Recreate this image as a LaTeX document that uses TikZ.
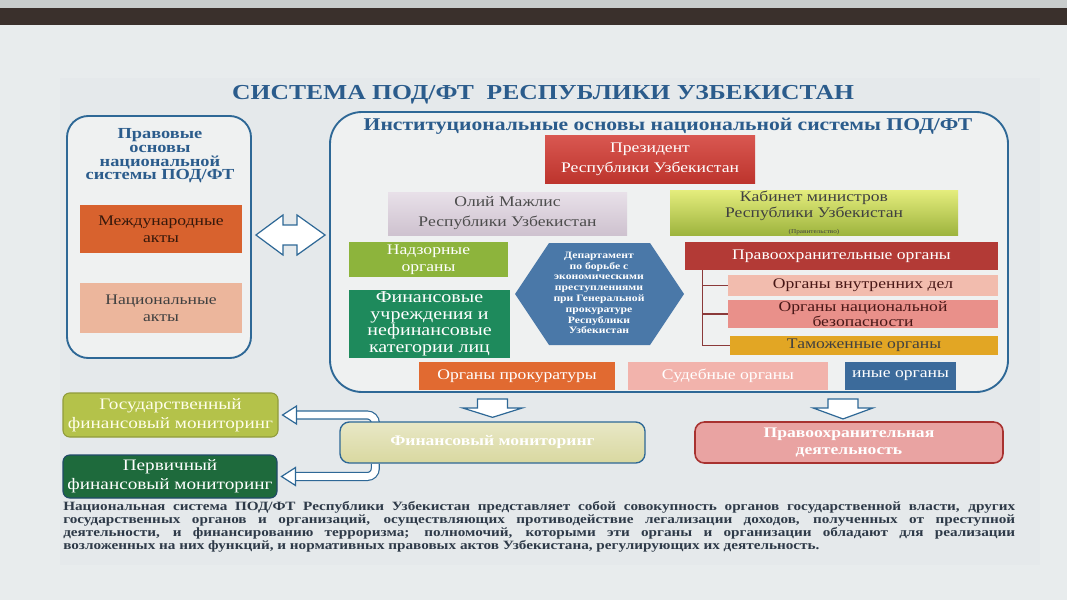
\documentclass[tikz,border=0pt]{standalone}
\usepackage{fontspec}
\setmainfont{Liberation Serif}[FakeStretch=1.2]
\usetikzlibrary{calc}
\pgfdeclarelayer{back}
\pgfdeclarelayer{bg}
\pgfsetlayers{back,bg,main}
\definecolor{bgc}{HTML}{E8ECED}
\definecolor{slidec}{HTML}{E5E9EB}
\definecolor{darkstrip}{HTML}{3A302C}
\definecolor{topstrip}{HTML}{C9CDCD}
\definecolor{blueline}{HTML}{2E6896}
\definecolor{titleblue}{HTML}{2B5C8C}
\definecolor{marble}{HTML}{EFF1F1}
\definecolor{maorange}{HTML}{D8622E}
\definecolor{napeach}{HTML}{ECB69C}
\definecolor{presred}{HTML}{D23A32}
\definecolor{olijlav}{HTML}{D9CCDA}
\definecolor{kabgreen}{HTML}{AFC845}
\definecolor{nadzgreen}{HTML}{8DB43C}
\definecolor{fingreen}{HTML}{1E8A5C}
\definecolor{hexblue}{HTML}{4A78A8}
\definecolor{pravred}{HTML}{B33A36}
\definecolor{ovdpink}{HTML}{F2BCAE}
\definecolor{onbpink}{HTML}{E9908A}
\definecolor{tamyellow}{HTML}{E2A624}
\definecolor{prokorange}{HTML}{E16A31}
\definecolor{sudpink}{HTML}{F2B3AC}
\definecolor{inyeblue}{HTML}{3C6B9B}
\definecolor{gfmolive}{HTML}{B4C24A}
\definecolor{pfmgreen}{HTML}{1E6A3C}
\definecolor{fmfill}{HTML}{D9D8A0}
\definecolor{pdfill}{HTML}{E9A3A2}
\definecolor{pdline}{HTML}{A83230}
\definecolor{treered}{HTML}{8B3A3A}
\definecolor{paratext}{HTML}{2E3A48}
\newcommand\fz[2]{\fontsize{#1}{#2}\selectfont}
% box from corner (x1,y1) to (x2,y2) in pixels
\newcommand\bx[7]{\node[box,#6,minimum width={(#4-#2)*0.75pt},minimum height={(#5-#3)*0.75pt}] (#1) at ({(#2+#4)/2},{(#3+#5)/2}) {#7};}
\begin{document}
\begin{tikzpicture}[x=0.75pt,y=-0.75pt,
  box/.style={inner sep=0pt, align=center},
  roundbox/.style={draw=blueline, line width=1.4pt, fill=marble},
  tree/.style={draw=treered, line width=0.8pt},
  hollow/.style={draw=blueline, line width=0.9pt, double=white, double distance=5pt, rounded corners=6},
  headar/.style={draw=blueline, line width=0.9pt, fill=white, line join=miter},
  blockar/.style={draw=blueline, line width=0.9pt, fill=white, line join=miter}]
\useasboundingbox (0,0) rectangle (1067,600);
\begin{pgfonlayer}{back}
\fill[bgc] (0,0) rectangle (1067,600);
\fill[slidec] (60,78) rectangle (1040,565);
\fill[topstrip] (0,0) rectangle (1067,8);
\fill[darkstrip] (0,8) rectangle (1067,25);
\end{pgfonlayer}

% title
\node[box, text=titleblue, font=\fz{16}{18}\bfseries] (title) at (543,95) {СИСТЕМА ПОД/ФТ\ \ РЕСПУБЛИКИ УЗБЕКИСТАН};

% legal basis
\bx{legal}{67}{116}{251}{358}{roundbox, rounded corners=16}{}
\node[box, text=titleblue, font=\fz{11.5}{10.2}\bfseries] (legalt) at (160,156) {Правовые\\основы\\национальной\\системы ПОД/ФТ};
\bx{ma}{80}{205}{242}{253}{fill=maorange, text=black!75!maorange, font=\fz{11}{13}}{Международные\\акты}
\bx{na}{80}{283}{242}{333}{fill=napeach, text=black!75, font=\fz{11}{13}}{Национальные\\акты}

% institutional basis
\bx{inst}{330}{112}{1008}{392}{roundbox, rounded corners=24}{}
\node[box, text=titleblue, font=\fz{13.5}{15}\bfseries] (instt) at (668,126) {Институциональные основы национальной системы ПОД/ФТ};

\bx{pres}{545}{135}{755}{183}{top color=presred!85!white, bottom color=presred!90!black, text=white, font=\fz{11}{15}}{Президент\\Республики Узбекистан}
\bx{olij}{388}{192}{627}{235}{top color=olijlav!60!white, bottom color=olijlav!95!black, text=black!70, font=\fz{11}{15}}{Олий Мажлис\\Республики Узбекистан}
\bx{kab}{670}{190}{958}{235}{top color=kabgreen!55!yellow!60!white, bottom color=kabgreen!90!black, text=black!75, font=\fz{11}{12.5}}{Кабинет министров\\Республики Узбекистан\\[-1pt]{\fz{4.5}{5}(Правительство)}}

\bx{nadz}{349}{242}{508}{277}{fill=nadzgreen, text=white, font=\fz{11}{13}}{Надзорные\\органы}
\bx{fin}{349}{290}{510}{358}{fill=fingreen, text=white, font=\fz{12.5}{12.4}}{Финансовые\\учреждения и\\нефинансовые\\категории лиц}

\fill[hexblue] (515,294) -- (549,243) -- (650,243) -- (684,294) -- (650,345) -- (549,345) -- cycle;
\node[box, text=white, font=\fz{7.3}{8.1}\bfseries] (dep) at (599,293) {Департамент\\по борьбе с\\экономическими\\преступлениями\\при Генеральной\\прокуратуре\\Республики\\Узбекистан};

\bx{prav}{685}{242}{998}{270}{fill=pravred, text=white, font=\fz{11}{13}}{Правоохранительные органы}
\bx{ovd}{728}{275}{998}{296}{fill=ovdpink, text=black!60!pravred, font=\fz{11}{13}}{Органы внутренних дел}
\bx{onb}{728}{300}{998}{328}{fill=onbpink, text=black!60!pravred, font=\fz{11}{10}}{Органы национальной\\безопасности}
\bx{tam}{730}{336}{998}{355}{fill=tamyellow, text=black!75, font=\fz{11}{13}}{Таможенные органы}
\draw[tree] ($(prav.south west)+(18,0)$) |- (tam.west);
\draw[tree] ($(prav.south west)+(18,0)$) |- (ovd.west);
\draw[tree] ($(prav.south west)+(18,0)$) |- (onb.west);

\bx{prok}{419}{362}{615}{390}{fill=prokorange, text=white, font=\fz{11}{13}}{Органы прокуратуры}
\bx{sud}{628}{362}{828}{390}{fill=sudpink, text=white, font=\fz{11}{13}}{Судебные органы}
\bx{inye}{845}{362}{956}{390}{fill=inyeblue, text=white, font=\fz{11}{13}}{иные органы}

% bottom row
\bx{gfm}{63}{393}{278}{437}{draw=gfmolive!80!black, line width=0.8pt, rounded corners=5, fill=gfmolive, text=white!92!yellow, font=\fz{12}{14}}{Государственный\\финансовый мониторинг}
\bx{pfm}{63}{455}{277}{498}{draw=blueline!70!black, line width=0.8pt, rounded corners=5, fill=pfmgreen, text=white, font=\fz{12}{14}}{Первичный\\финансовый мониторинг}
\bx{fm}{340}{422}{645}{463}{draw=blueline, line width=1pt, rounded corners=7, top color=fmfill!60!white, bottom color=fmfill, text=white, font=\fz{11}{13}\bfseries}{Финансовый мониторинг}
\bx{pd}{695}{422}{1003}{463}{draw=pdline, line width=1.2pt, rounded corners=7, fill=pdfill, text=white, font=\fz{11}{13}\bfseries}{Правоохранительная\\деятельность}

% double arrow between legal and institutional
\coordinate (dl) at ($(legal.east)+(4,-2)$);
\coordinate (dr) at ($(inst.west)+(-4,-17)$);
\draw[blockar] (dl) -- ++(27,-20) -- ++(0,10) -- ($(dr)+(-28,-10)$) -- ++(0,-10) -- (dr) -- ++(-28,20) -- ++(0,-10) -- ($(dl)+(27,10)$) -- ++(0,10) -- cycle;

% down arrows
\coordinate (a1) at (inst.south -| fm.north);
\draw[blockar] ($(a1)+(-15,6)$) -- ++(30,0) -- ++(0,9) -- ++(15,0) -- ($(fm.north)+(0,-4)$) -- ($(a1)+(-30,15)$) -- ++(15,0) -- cycle;
\coordinate (a2) at ($(inst.south -| pd.north)+(-6,0)$);
\draw[blockar] ($(a2)+(-15,6)$) -- ++(30,0) -- ++(0,9) -- ++(15,0) -- ($(a2)+(0,26)$) -- ($(a2)+(-30,15)$) -- ++(15,0) -- cycle;

% hollow connectors from financial monitoring
\begin{pgfonlayer}{bg}
\draw[hollow] ($(gfm.east)+(17,0)$) -| ($(fm.north west)+(36,0)$);
\draw[hollow] ($(pfm.east)+(17,0)$) -| ($(fm.south west)+(36,0)$);
\end{pgfonlayer}
\draw[headar] ($(gfm.east)+(4,0)$) -- ++(14,-9) -- ++(0,18) -- cycle;
\draw[headar] ($(pfm.east)+(4,0)$) -- ++(14,-9) -- ++(0,18) -- cycle;

% paragraph
\node[anchor=north west, inner sep=0pt, text=paratext] (para) at (63,501) {\parbox{714pt}{\fz{9.5}{9.75}\bfseries\emergencystretch=3em\hyphenpenalty=10000
Национальная система ПОД/ФТ Республики Узбекистан представляет собой совокупность органов государственной власти, других\linebreak
государственных органов и организаций, осуществляющих противодействие легализации доходов, полученных от преступной\linebreak
деятельности, и финансированию терроризма; полномочий, которыми эти органы и организации обладают для реализации\linebreak
возложенных на них функций, и нормативных правовых актов Узбекистана, регулирующих их деятельность.}};
\end{tikzpicture}
\end{document}
